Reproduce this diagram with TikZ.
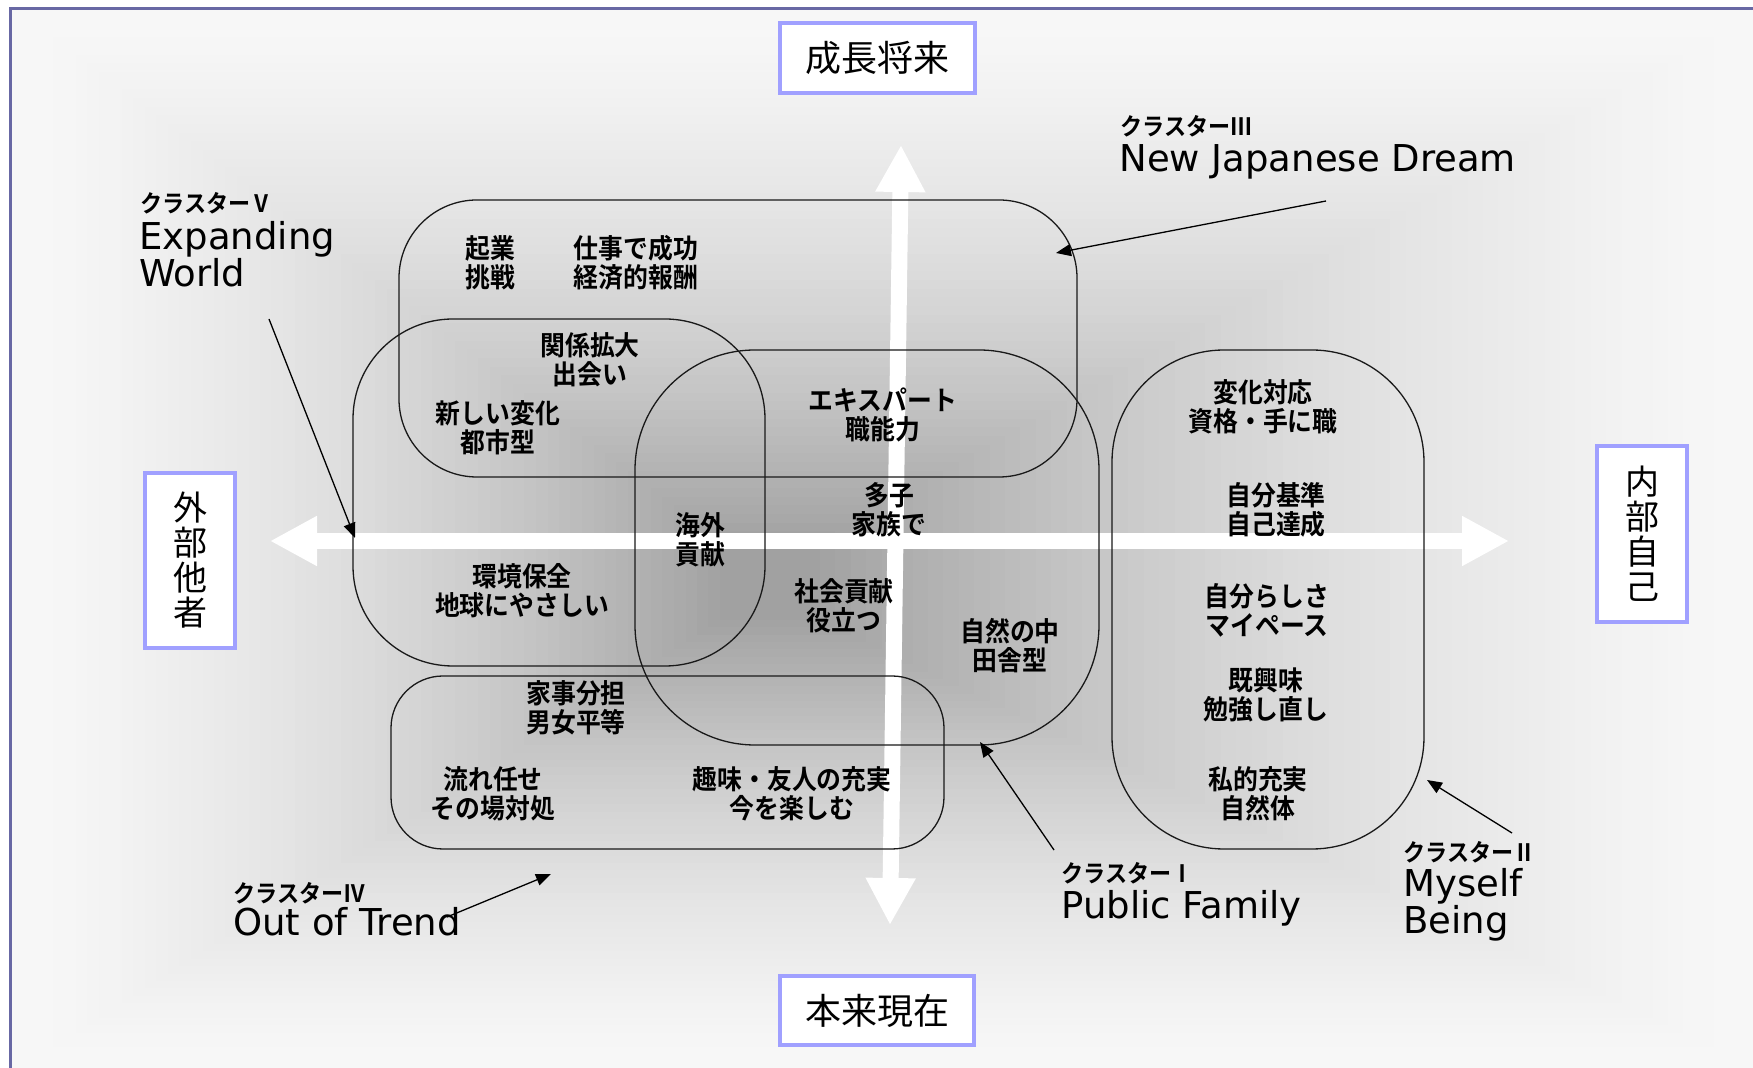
\documentclass[tikz,border=0pt]{standalone}
\usepackage{fontspec}
\setmainfont{DejaVu Sans}
\newfontfamily\jp{Noto Sans CJK JP}
\newfontfamily\jpb{Noto Sans CJK JP Bold}[FakeStretch=0.92]
\newfontfamily\en{DejaVu Sans}
\usetikzlibrary{arrows.meta}
\definecolor{framecol}{RGB}{104,104,164}
\definecolor{axisbox}{RGB}{160,160,255}
\begin{document}
\begin{tikzpicture}[x=0.5pt,y=-0.5pt,
  clus/.style={draw=black!90, line width=0.65pt, inner sep=0pt},
  lbl/.style={font=\jpb\fontsize{13.5}{14.5}\selectfont, align=center, inner sep=0pt},
  axbox/.style={draw=axisbox, line width=2pt, fill=white, inner sep=0pt, font=\jp\fontsize{18}{18}\selectfont},
  vbox/.style={axbox, align=center, font=\jp\fontsize{17}{17.5}\selectfont},
  ctitle/.style={font=\jpb\fontsize{12}{12}\selectfont, anchor=base west, inner sep=0pt},
  ename/.style={font=\en\fontsize{18.5}{14.5}\selectfont, anchor=base west, inner sep=0pt},
  pointer/.style={line width=0.65pt, -{Triangle[length=7.5pt,width=6pt]}},
  axisarrow/.style={white, line width=8pt, {Triangle[length=23.5pt,width=23.5pt]}-{Triangle[length=23.5pt,width=23.5pt]}}
]
\useasboundingbox (0,0) rectangle (1753,1068);
\fill[white] (0,0) rectangle (1753,1068);
% background gradient
\fill[black!3] (10,9) rectangle (1753,1068);
\foreach \i in {0,...,60}{
  \pgfmathsetmacro\t{\i/60}
  \pgfmathsetmacro\c{3+34*(0.4*\t+0.6*\t*\t)}
  \fill[black!\c] ({30+690*\t},{20+520*\t}) rectangle ({1745-925*\t},{1062-442*\t});
}
% frame
\draw[framecol, line width=1.5pt] (10,1068) -- (10,9) -- (1753,9);

% white axes
\coordinate (hl) at (270,541);
\coordinate (hr) at (1509,541);
\coordinate (vt) at (901,145);
\coordinate (vb) at (890,925);
\draw[axisarrow] (hl) -- (hr);
\draw[axisarrow] (vt) -- (vb);

% clusters
\node[clus, rounded corners=39pt, minimum width=339pt, minimum height=138.5pt] (c3) at (738,338.5) {};
\node[clus, rounded corners=50pt, minimum width=206pt, minimum height=173.5pt] (c5) at (559,492.5) {};
\node[clus, rounded corners=60pt, minimum width=232pt, minimum height=197.5pt] (c1) at (867,547.5) {};
\node[clus, rounded corners=26pt, minimum width=276.5pt, minimum height=86.5pt] (c4) at (667.5,762.5) {};
\node[clus, rounded corners=56pt, minimum width=156pt, minimum height=249.5pt] (c2) at (1268,599.5) {};

% axis boxes
\node[axbox, minimum width=97.5pt, minimum height=35pt] (top) at (877.5,58) {成長将来};
\node[axbox, minimum width=97pt, minimum height=34.5pt] (bot) at (877,1010.5) {本来現在};
\node[vbox, minimum width=45pt, minimum height=87.5pt] (left) at (190,560.5) {外\\部\\他\\者};
\node[vbox, minimum width=45pt, minimum height=88pt] (right) at (1642,534) {内\\部\\自\\己};

% labels
\node[lbl] (t1) at (490,263) {起業\\挑戦};
\node[lbl] (t2) at (636,263) {仕事で成功\\経済的報酬};
\node[lbl] (t3) at (590,360) {関係拡大\\出会い};
\node[lbl] (t4) at (498,428) {新しい変化\\都市型};
\node[lbl] (t5) at (883,415) {エキスパート\\職能力};
\node[lbl] (t6) at (700,540) {海外\\貢献};
\node[lbl] (t7) at (889,510) {多子\\家族で};
\node[lbl] (t8) at (522,591) {環境保全\\地球にやさしい};
\node[lbl] (t9) at (844,606) {社会貢献\\役立つ};
\node[lbl] (t10) at (1010,646) {自然の中\\田舎型};
\node[lbl] (t11) at (576,708) {家事分担\\男女平等};
\node[lbl] (t12) at (493,794) {流れ任せ\\その場対処};
\node[lbl] (t13) at (792,794) {趣味・友人の充実\\今を楽しむ};
\node[lbl] (t14) at (1263,407) {変化対応\\資格・手に職};
\node[lbl] (t15) at (1276,510) {自分基準\\自己達成};
\node[lbl] (t16) at (1267,610) {自分らしさ\\マイペース};
\node[lbl] (t17) at (1266,695) {既興味\\勉強し直し};
\node[lbl] (t18) at (1258,794) {私的充実\\自然体};

% cluster titles
\node[ctitle] (k3) at (1120,136) {クラスターⅢ};
\node[ename] (n3) at (1119,172) {New Japanese Dream};
\node[ctitle] (k5) at (140,213) {クラスターⅤ};
\node[ename] (n5a) at (139,250) {Expanding};
\node[ename] (n5b) at (139,287) {World};
\node[ctitle] (k4) at (233,903) {クラスターⅣ};
\node[ename] (n4) at (233,936) {Out of Trend};
\node[ctitle] (k1) at (1061,883) {クラスターⅠ};
\node[ename] (n1) at (1061,919) {Public Family};
\node[ctitle] (k2) at (1403,862) {クラスターⅡ};
\node[ename] (n2a) at (1403,897) {Myself};
\node[ename] (n2b) at (1403,934) {Being};

% pointers
\coordinate (p3s) at (1326,201); \coordinate (p3e) at (1056,253);
\coordinate (p5s) at (269,319);  \coordinate (p5e) at (355,538);
\coordinate (p4s) at (447,917);  \coordinate (p4e) at (551,874);
\coordinate (p1s) at (1054,850); \coordinate (p1e) at (980,742);
\coordinate (p2s) at (1512,833); \coordinate (p2e) at (1427,780);
\draw[pointer] (p3s) -- (p3e);
\draw[pointer] (p5s) -- (p5e);
\draw[pointer] (p4s) -- (p4e);
\draw[pointer] (p1s) -- (p1e);
\draw[pointer] (p2s) -- (p2e);
\end{tikzpicture}
\end{document}
